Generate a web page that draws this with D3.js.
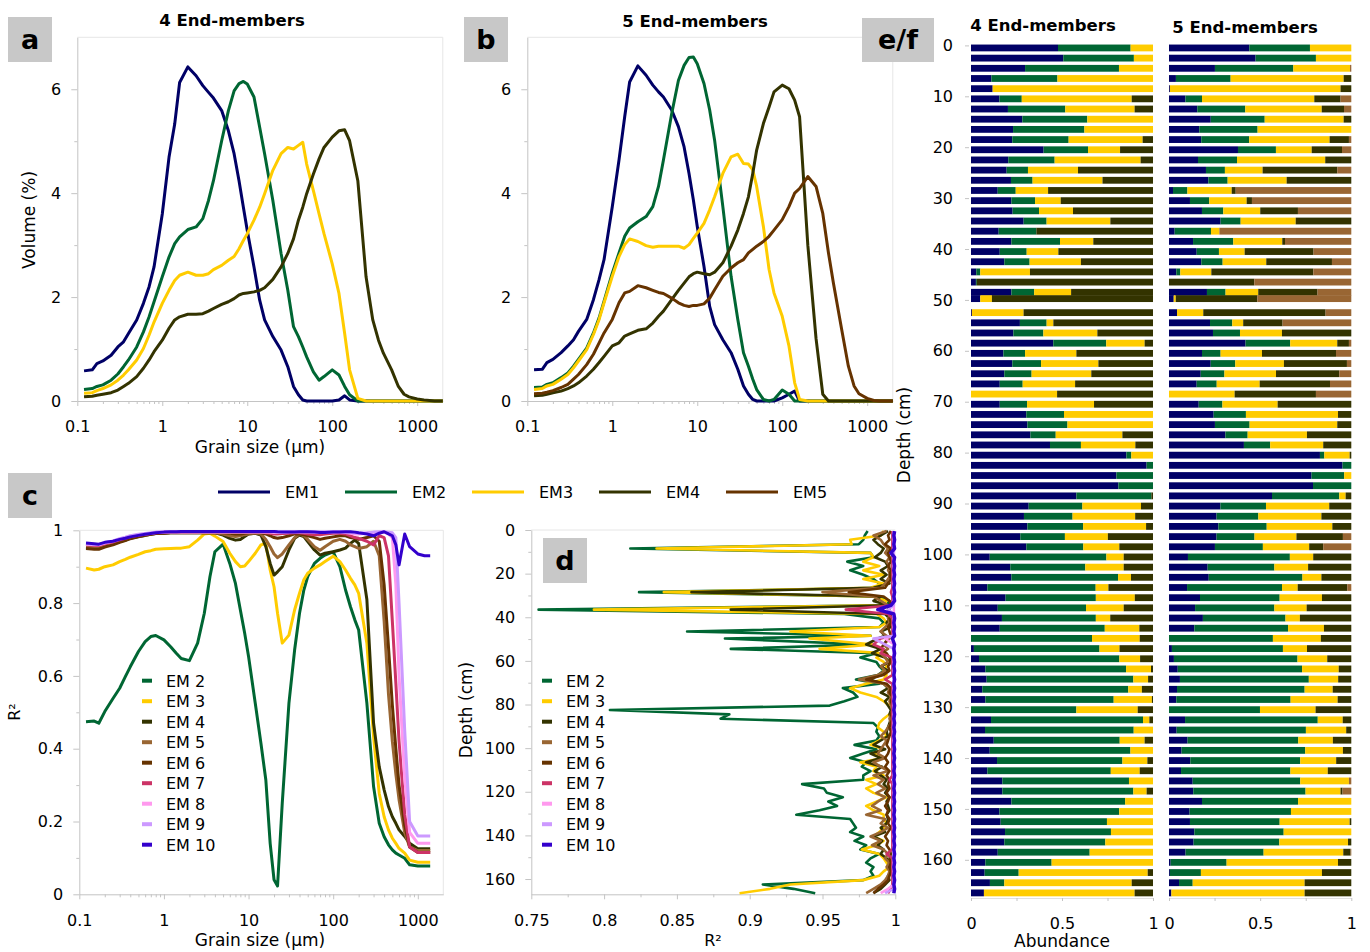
<!DOCTYPE html>
<html>
<head>
<meta charset="utf-8">
<script src="https://cdn.jsdelivr.net/npm/d3@7"></script>
<style>
body { margin:0; background:#fff; }
text { font-family: "DejaVu Sans", Verdana, sans-serif; }
</style>
</head>
<body>
<div id="chart"></div>
<script>
// grain sizes (um) for panels a and b
var grain = [0.12,0.15,0.17,0.2,0.25,0.3,0.35,0.4,0.5,0.6,0.7,0.8,
  1,1.2,1.4,1.6,2,2.5,3,3.5,4,5,6,7,8,9,
  10,12,14,16,20,25,30,35,40,45,50,60,70,80,
  100,120,140,160,200,250,300,350,400,500,600,700,800,
  1000,1200,1400,1600,2000];

// a: 4 end-members (volume %)
var a_em1 = [0.58,0.60,0.72,0.77,0.88,1.04,1.14,1.30,1.56,1.88,2.20,2.58,
  3.60,4.69,5.33,6.13,6.43,6.26,6.07,5.94,5.83,5.59,5.20,4.76,4.24,3.73,
  3.28,2.58,1.94,1.56,1.24,0.98,0.66,0.28,0.12,0.02,0,0,0,0,
  0,0.02,0.10,0.02,0,0,0,0,0,0,0,0,0, 0,0,0,0,0];
var a_em2 = [0.22,0.24,0.28,0.31,0.40,0.52,0.66,0.79,1.04,1.33,1.62,1.91,
  2.39,2.77,3.03,3.16,3.30,3.35,3.51,3.86,4.24,5.01,5.59,5.97,6.11,6.15,
  6.10,5.85,5.27,4.76,3.86,2.84,2.13,1.43,1.24,1.04,0.85,0.56,0.40,0.47,
  0.60,0.50,0.28,0.12,0,0,0,0,0,0,0,0,0, 0,0,0,0,0];
var a_em3 = [0.15,0.16,0.20,0.24,0.31,0.40,0.50,0.60,0.79,1.01,1.27,1.52,
  1.88,2.13,2.32,2.42,2.48,2.42,2.42,2.45,2.53,2.61,2.71,2.78,2.93,3.09,
  3.22,3.48,3.73,3.99,4.44,4.76,4.88,4.85,4.92,4.98,4.56,4.05,3.60,3.22,
  2.64,2.07,1.30,0.60,0.05,0,0,0,0,0,0,0,0, 0,0,0,0,0];
var a_em4 = [0.08,0.09,0.11,0.13,0.16,0.21,0.28,0.34,0.47,0.63,0.79,0.95,
  1.17,1.40,1.56,1.62,1.67,1.67,1.68,1.73,1.78,1.86,1.91,1.97,2.04,2.07,
  2.08,2.10,2.13,2.18,2.34,2.58,2.84,3.12,3.48,3.73,3.99,4.37,4.66,4.88,
  5.08,5.20,5.22,5.01,4.24,2.39,1.56,1.17,0.92,0.60,0.28,0.13,0.08, 0.04,0.02,0.01,0,0];

// b: 5 end-members (volume %)
var b_em1 = [0.60,0.61,0.74,0.80,0.93,1.06,1.18,1.34,1.57,1.95,2.34,2.72,
  3.74,4.64,5.47,6.14,6.45,6.27,6.08,5.95,5.85,5.60,5.28,4.89,4.38,3.87,
  3.36,2.59,1.82,1.47,1.18,0.93,0.61,0.29,0.13,0.03,0,0,0,0,
  0.06,0.13,0.19,0,0,0,0,0,0,0,0,0,0, 0,0,0,0,0];
var b_em2 = [0.26,0.27,0.32,0.35,0.45,0.54,0.67,0.80,1.02,1.31,1.60,1.92,
  2.46,2.85,3.17,3.33,3.45,3.55,3.74,4.13,4.64,5.53,6.17,6.46,6.61,6.62,
  6.49,6.11,5.60,5.02,3.74,2.40,1.57,0.93,0.67,0.42,0.22,0.03,0,0.03,
  0.21,0.13,0,0,0,0,0,0,0,0,0,0,0, 0,0,0,0,0];
var b_em3 = [0.22,0.24,0.29,0.32,0.42,0.51,0.64,0.77,0.99,1.28,1.57,1.89,
  2.40,2.78,3.01,3.12,3.07,2.99,2.96,2.98,2.98,2.98,2.98,2.94,3.01,3.13,
  3.23,3.42,3.68,3.93,4.38,4.70,4.75,4.57,4.56,4.45,4.13,3.36,2.53,2.08,
  1.63,1.06,0.35,0.03,0,0,0,0,0,0,0,0,0, 0,0,0,0,0];
var b_em4 = [0.10,0.11,0.13,0.16,0.19,0.24,0.29,0.35,0.48,0.61,0.74,0.86,
  1.06,1.12,1.25,1.29,1.36,1.39,1.50,1.63,1.73,1.95,2.13,2.27,2.39,2.45,
  2.48,2.45,2.43,2.48,2.66,2.98,3.29,3.61,3.93,4.38,4.83,5.34,5.66,5.95,
  6.08,6.01,5.79,5.47,3.00,1.20,0.13,0,0,0,0,0,0, 0,0,0,0,0];
var b_em5 = [0.14,0.15,0.17,0.20,0.26,0.32,0.42,0.51,0.70,0.90,1.12,1.31,
  1.57,1.89,2.08,2.11,2.22,2.18,2.13,2.09,2.07,1.98,1.89,1.84,1.82,1.84,
  1.84,1.87,1.98,2.14,2.40,2.56,2.66,2.72,2.85,2.92,2.98,3.07,3.17,3.29,
  3.49,3.74,4.00,4.09,4.32,4.13,3.61,2.85,2.27,1.38,0.67,0.29,0.14, 0.05,0.01,0,0,0];

// c: R2 per grain size
var grainR2 = [0.12,0.15,0.17,0.2,0.25,0.3,0.35,0.4,0.5,0.6,0.7,0.8,
  1,1.2,1.4,1.6,2,2.5,3,3.5,4,5,6,7,8,9,
  10,12,14,16,18,20,22,25,30,35,40,45,50,60,70,80,
  100,120,140,160,180,200,250,300,350,400,450,500,550,600,700,800,
  1000,1200,1400];
var c_em2 = [0.474,0.476,0.470,0.502,0.538,0.566,0.598,0.625,0.667,0.694,0.708,0.711,
  0.699,0.680,0.662,0.648,0.642,0.690,0.772,0.873,0.941,0.962,0.909,0.854,0.781,0.717,
  0.653,0.525,0.415,0.314,0.140,0.040,0.023,0.250,0.525,0.671,0.772,0.836,0.873,0.909,0.923,0.932,
  0.941,0.900,0.836,0.790,0.754,0.726,0.525,0.296,0.195,0.158,0.136,0.122,0.113,0.108,0.099,0.081,
  0.078,0.078,0.078];
var c_em3 = [0.896,0.891,0.893,0.900,0.905,0.914,0.920,0.926,0.934,0.941,0.944,0.948,
  0.949,0.950,0.951,0.951,0.955,0.973,0.990,0.992,0.984,0.969,0.937,0.914,0.900,0.902,
  0.914,0.937,0.960,0.964,0.891,0.845,0.772,0.690,0.712,0.781,0.827,0.864,0.882,0.896,0.905,0.914,
  0.929,0.914,0.891,0.868,0.850,0.827,0.690,0.433,0.277,0.213,0.177,0.154,0.140,0.126,0.113,0.094,
  0.088,0.088,0.088];
var c_em4 = [0.953,0.951,0.951,0.957,0.962,0.969,0.973,0.978,0.983,0.986,0.989,0.991,
  0.992,0.993,0.993,0.993,0.993,0.993,0.993,0.993,0.993,0.987,0.978,0.973,0.975,0.983,
  0.990,0.992,0.987,0.955,0.909,0.877,0.886,0.900,0.946,0.978,0.987,0.983,0.969,0.946,0.932,0.937,
  0.941,0.946,0.951,0.964,0.973,0.964,0.810,0.470,0.350,0.287,0.241,0.213,0.195,0.177,0.159,0.140,
  0.125,0.125,0.125];
var c_em5 = [0.955,0.953,0.953,0.958,0.963,0.970,0.974,0.979,0.984,0.987,0.990,0.992,
  0.993,0.994,0.994,0.994,0.994,0.994,0.994,0.994,0.993,0.990,0.985,0.983,0.985,0.988,
  0.990,0.992,0.990,0.975,0.955,0.935,0.925,0.935,0.960,0.980,0.990,0.985,0.975,0.955,0.945,0.955,
  0.970,0.975,0.970,0.960,0.955,0.950,0.955,0.970,0.930,0.750,0.550,0.420,0.330,0.260,0.170,0.130,
  0.120,0.120,0.120];
var c_em6 = [0.950,0.948,0.948,0.954,0.960,0.967,0.972,0.977,0.982,0.986,0.989,0.991,
  0.992,0.993,0.993,0.993,0.993,0.993,0.993,0.993,0.993,0.993,0.992,0.990,0.990,0.992,
  0.993,0.993,0.993,0.990,0.985,0.980,0.978,0.980,0.985,0.990,0.990,0.988,0.985,0.980,0.975,0.978,
  0.982,0.985,0.985,0.980,0.978,0.975,0.980,0.985,0.970,0.850,0.680,0.520,0.400,0.300,0.190,0.130,
  0.115,0.115,0.115];
var c_em7 = [0.960,0.958,0.958,0.963,0.968,0.974,0.978,0.982,0.986,0.989,0.991,0.993,
  0.994,0.995,0.995,0.995,0.995,0.995,0.995,0.995,0.995,0.995,0.995,0.995,0.995,0.995,
  0.995,0.995,0.995,0.993,0.992,0.990,0.990,0.991,0.992,0.993,0.993,0.992,0.990,0.988,0.988,0.990,
  0.992,0.992,0.990,0.985,0.980,0.978,0.970,0.960,0.985,0.980,0.930,0.750,0.580,0.420,0.220,0.130,
  0.115,0.115,0.115];
var c_em8 = [0.962,0.960,0.960,0.965,0.970,0.976,0.980,0.984,0.988,0.990,0.992,0.994,
  0.995,0.995,0.995,0.995,0.995,0.995,0.995,0.995,0.995,0.995,0.995,0.995,0.995,0.995,
  0.995,0.995,0.995,0.995,0.995,0.994,0.994,0.994,0.995,0.995,0.995,0.995,0.995,0.994,0.994,0.994,
  0.995,0.995,0.994,0.992,0.990,0.990,0.992,0.993,0.994,0.995,0.990,0.980,0.850,0.600,0.320,0.170,
  0.140,0.140,0.140];
var c_em9 = [0.963,0.961,0.961,0.966,0.971,0.977,0.981,0.985,0.989,0.991,0.993,0.995,
  0.996,0.996,0.996,0.996,0.996,0.996,0.996,0.996,0.996,0.996,0.996,0.996,0.996,0.996,
  0.996,0.996,0.996,0.996,0.996,0.996,0.996,0.996,0.996,0.996,0.996,0.996,0.996,0.996,0.996,0.996,
  0.996,0.996,0.995,0.994,0.993,0.992,0.993,0.995,0.996,0.996,0.995,0.993,0.980,0.800,0.450,0.200,
  0.160,0.160,0.160];
var c_em10 = [0.965,0.963,0.962,0.967,0.970,0.975,0.978,0.982,0.986,0.989,0.991,0.993,
  0.995,0.996,0.996,0.997,0.997,0.997,0.997,0.997,0.997,0.997,0.997,0.997,0.997,0.997,
  0.997,0.997,0.997,0.997,0.997,0.997,0.996,0.995,0.995,0.995,0.996,0.996,0.996,0.995,0.994,0.994,
  0.995,0.995,0.996,0.996,0.995,0.993,0.990,0.985,0.992,0.996,0.990,0.985,0.960,0.905,0.990,0.955,
  0.935,0.930,0.930];

// sample depths (cm) for panels d, e, f
var depth = [0.5,2.5,4.5,6.5,8.5,10.5,12.5,14.5,16.5,18.5,20.5,22.5,24.5,26.5,28.5,30.5,32.5,34.5,36.5,38.5,
  40.5,42.5,44.5,46.5,48.5,49.75,52.5,54.5,56.5,58.5,60.5,62.5,64.5,66.5,68.5,70.5,72.5,74.5,76.5,78.5,
  80.5,82.5,84.5,86.5,88.5,90.5,92.5,94.5,96.5,98.5,100.5,102.5,104.5,106.5,108.5,110.5,112.5,114.5,116.5,118.5,
  120.5,122.5,124.5,126.5,128.5,130.5,132.5,134.5,136.5,138.5,140.5,142.5,144.5,146.5,148.5,150.5,152.5,154.5,156.5,158.5,
  160.5,162.5,164.5,166.5];

// d: R2 per sample depth
var d_em2 = [.981,.979,.978,.975,.818,.983,.985,.967,.978,.969, .978,.985,.989,.992,.824,.989,.996,.994,.755,.965,
  .989,.992,.989,.857,.983,.883,.980,.887,.987,.976, .987,.989,.992,.988,.973,.989,.964,.971,.974,.965,
  .955,.804,.886,.880,.985,.988,.987,.989,.987,.972, .987,.978,.969,.980,.977,.983,.978,.978,.936,.951,
  .953,.964,.954,.960,.948,.932,.969,.971,.973,.969, .978,.972,.980,.976,.989,.983,.980,.985,.983,.985,
  .978,.909,.930,.945];
var d_em3 = [.992,.990,.969,.970,.836,.983,.985,.978,.989,.978, .992,.978,.992,.983,.841,.985,.994,.992,.793,.987,
  .992,.994,.989,.928,.983,.941,.985,.948,.992,.987, .992,.994,.992,.994,.992,.980,.969,.976,.987,.992,
  .996,.999,.996,.992,.989,.988,.992,.994,.989,.983, .992,.985,.992,.976,.987,.985,.992,.980,.987,.980,
  .985,.994,.987,.980,.985,.992,.992,.994,.992,.989, .985,.992,.987,.977,.989,.992,.994,.996,.992,.989,
  .978,.928,.914,.893];
var d_em4 = [.995,.990,.985,.988,.992,.990,.986,.993,.995,.990, .994,.990,.996,.985,.860,.990,.985,.995,.887,.993,
  .996,.994,.997,.990,.993,.988,.980,.990,.984,.993, .996,.990,.995,.990,.982,.992,.995,.990,.996,.993,
  .995,.997,.996,.997,.996,.995,.994,.995,.990,.985, .993,.983,.990,.980,.991,.986,.990,.994,.992,.995,
  .993,.996,.994,.995,.996,.994,.995,.994,.990,.993, .985,.991,.988,.992,.990,.994,.996,.995,.997,.995,
  .996,.993,.990,.985];
var d_em5 = [.994,.985,.990,.992,.995,.993,.996,.994,.996,.995, .997,.995,.993,.990,.950,.985,.990,.995,.996,.997,
  .995,.996,.993,.990,.994,.996,.992,.995,.990,.993, .995,.990,.993,.988,.975,.992,.996,.995,.997,.996,
  .997,.998,.997,.996,.997,.995,.993,.990,.994,.992, .990,.988,.993,.985,.990,.995,.985,.992,.988,.993,
  .987,.993,.988,.984,.990,.980,.993,.990,.995,.990, .983,.990,.984,.992,.995,.993,.996,.994,.996,.995,
  .993,.990,.985,.980];
var d_em6 = [.997,.995,.996,.993,.997,.995,.996,.997,.995,.997, .996,.997,.995,.993,.968,.992,.996,.997,.995,.997,
  .996,.997,.995,.996,.997,.995,.992,.990,.994,.996, .997,.995,.996,.992,.980,.994,.997,.996,.998,.997,
  .998,.998,.997,.998,.997,.996,.997,.996,.995,.994, .996,.995,.993,.995,.993,.996,.994,.996,.995,.996,
  .994,.996,.995,.993,.995,.994,.996,.995,.997,.995, .993,.995,.994,.996,.997,.996,.997,.996,.997,.996,
  .995,.992,.988,.985];
var d_em7 = [.998,.998,.998,.998,.998,.998,.998,.998,.998,.998, .998,.998,.998,.998,.997,.998,.998,.998,.966,.995,
  .998,.998,.998,.998,.998,.990,.985,.992,.990,.998, .998,.998,.998,.998,.993,.998,.998,.998,.998,.998,
  .998,.998,.998,.998,.998,.998,.998,.998,.998,.998, .998,.998,.998,.998,.998,.998,.998,.996,.998,.998,
  .998,.998,.998,.998,.998,.998,.998,.998,.998,.998, .998,.998,.998,.998,.994,.998,.998,.998,.998,.998,
  .998,.998,.997,.995];
var d_em8 = [.999,.999,.999,.999,.999,.999,.999,.999,.999,.999, .999,.999,.999,.999,.999,.999,.999,.999,.999,.999,
  .999,.999,.999,.999,.999,.993,.999,.999,.999,.999, .999,.999,.999,.999,.999,.999,.999,.999,.999,.999,
  .999,.999,.999,.999,.999,.999,.999,.999,.999,.999, .999,.999,.999,.999,.999,.999,.999,.999,.999,.999,
  .999,.999,.999,.999,.999,.999,.999,.999,.999,.999, .999,.999,.999,.999,.999,.999,.999,.999,.999,.999,
  .999,.999,.995,.990];
var d_em9 = [.999,.999,.999,.999,.999,.999,.999,.999,.999,.999, .999,.999,.999,.999,.999,.999,.999,.999,.995,.999,
  .999,.999,.999,.999,.999,.985,.993,.999,.999,.999, .999,.999,.999,.999,.999,.999,.999,.999,.999,.999,
  .999,.999,.999,.999,.999,.999,.999,.999,.999,.999, .999,.999,.999,.999,.999,.999,.999,.999,.999,.999,
  .999,.999,.999,.999,.999,.999,.999,.999,.999,.999, .999,.999,.999,.999,.999,.999,.999,.999,.999,.999,
  .999,.999,.999,.993];
var d_em10 = [.9995,.999,.9995,.999,.9995,.997,.9995,.999,.9995,.999, .9995,.999,.9995,.999,.9995,.999,.9995,.997,.988,.999,
  .9995,.999,.9995,.999,.9995,.998,.9995,.999,.9995,.999, .9995,.999,.9995,.999,.9995,.999,.9995,.999,.9995,.999,
  .9995,.999,.9995,.999,.9995,.999,.9995,.999,.9995,.999, .9995,.999,.9995,.999,.9995,.999,.9995,.999,.9995,.999,
  .9995,.999,.9995,.999,.9995,.999,.9995,.999,.9995,.999, .9995,.999,.9995,.999,.9995,.999,.9995,.999,.9995,.999,
  .9995,.999,.9995,.999];

// e: abundances, 4 end-members
var e_em1 = [.478,.507,.297,.112,.119,.156,.203,.282,.231,.227, .399,.205,.196,.220,.147,.222,.229,.289,.152,.222,
  .158,.183,.029,.027,.222,.051,.005,.269,.233,.452, .178,.227,.183,.158,0,.158,.304,.310,.326,.434,
  .853,.965,.799,.810,.579,.317,.291,.310,.271,.304, .103,.216,.222,.090,.190,.147,.170,.158,0,.016,
  .044,.079,.086,.062,.079,0,.110,.077,.125,.103, .143,.090,.172,.172,.222,.156,.163,.187,.183,.147,
  .079,.075,.104,.071];
var e_em2 = [.399,.388,.516,.363,0,.123,.315,.357,.392,.310, .244,.255,.117,.119,.099,.130,.145,.126,.207,.267,
  .148,.139,.022,.005,.125,0,0,.147,.165,.291, .119,.158,.150,.126,0,.150,.207,.220,.139,.170,
  .027,.035,.201,.190,.412,.295,.267,.306,.245,.313, .641,.412,.586,.595,.496,.485,.516,.577,.665,.690,
  .771,.773,.806,.802,.705,.579,.835,.817,.692,.773, .689,.678,.696,.720,.625,.658,.584,.582,.555,.505,
  .364,.187,.079,0];
var e_em3 = [.123,.105,.187,.525,.881,.604,.381,.361,.377,.407, .176,.473,.275,.385,.178,.141,.187,.350,0,.183,
  .174,.282,.273,0,.203,.064,.284,.037,.297,.211, .282,.315,.328,.288,.473,.368,.489,.470,.366,.299,
  .119,0,0,0,0,.322,.344,.346,.236,.198, .095,.211,.071,.070,.214,.207,.079,.190,.262,.110,
  .114,.137,.081,.075,.210,.337,.035,.106,.137,.124, .137,.159,.132,.073,.153,.186,.253,.231,.262,.348,
  .557,.709,.700,.828];
var e_em4 = [0,0,0,0,0,.117,.101,0,0,.057, .181,.068,.412,.278,.577,.507,.440,.234,.641,.328,
  .520,.396,.676,.968,.450,.885,.711,.548,.306,.046, .421,.300,.339,.428,.527,.324,0,0,.168,.097,
  0,0,0,0,.009,.066,.098,.038,.248,.185, .161,.161,.121,.245,.100,.161,.235,.075,.073,.184,
  .071,.011,.027,.061,.006,.084,.020,0,.046,0, .031,.073,0,.035,0,0,0,0,0,0,
  0,.029,.117,.101];

// f: abundances, 5 end-members
var f_em1 = [.441,.475,.252,.038,.005,.090,.155,.229,.166,.177, .378,.159,.203,.216,.022,.115,.181,.283,.031,.132,
  .152,.177,.040,0,.208,.026,.044,.225,.241,.420, .181,.229,.174,.152,0,.163,.245,.252,.309,.411,
  .828,.952,.782,.790,.565,.282,.261,.271,.261,.252, .104,.212,.218,.099,.170,.143,.186,.139,0,.016,
  .027,.048,.060,.044,.040,0,.088,.042,.102,.069, .117,.066,.130,.133,.181,.113,.115,.139,.135,.091,
  .009,.005,.055,.013];
var f_em2 = [.333,.331,.430,.300,0,.091,.263,.296,.320,.263, .208,.214,.104,.106,.079,.106,.117,.110,.199,.221,
  .122,.117,.022,0,.102,0,0,.122,.148,.245, .102,.135,.130,.110,0,.130,.177,.190,.122,.144,
  .024,.048,.179,.210,.369,.250,.229,.265,.208,.263, .559,.366,.514,.521,.437,.435,.453,.514,.570,.609,
  .678,.682,.707,.700,.627,.499,.728,.709,.607,.678, .603,.600,.590,.616,.527,.556,.492,.490,.470,.428,
  .307,.170,.075,0];
var f_em3 = [.227,.194,.311,.620,.936,.616,.419,.433,.514,.441, .196,.484,.207,.324,.243,.205,.203,.302,.046,.269,
  .141,.239,.170,0,.179,.011,.144,.060,.230,.258, .227,.267,.283,.236,.360,.303,.505,.481,.325,.291,
  .139,0,.039,0,.035,.347,.346,.360,.230,.254, .128,.185,.104,.086,.232,.177,.079,.197,.263,.132,
  .163,.201,.161,.154,.258,.305,.137,.221,.190,.207, .197,.205,.267,.192,.292,.331,.384,.371,.377,.437,
  .611,.664,.614,.731];
var f_em4 = [0,0,0,.042,.059,.144,.122,.042,0,.106, .166,.143,.410,.355,.022,.029,.207,.305,0,.015,
  .378,.360,.559,.468,.325,.448,.671,.216,.380,.064, .406,.346,.347,.386,.446,.404,.073,.077,.243,.154,
  .009,0,0,0,.031,.121,.164,.104,.255,.077, .209,.237,.164,.272,.161,.245,.282,.150,.167,.243,
  .132,.069,.072,.102,.075,.196,.047,.028,.101,.046, .083,.129,0,.011,0,0,.009,0,.018,.040,
  .073,.161,.256,.256];
var f_em5 = [0,0,.007,0,0,.059,.040,0,0,.013, .051,0,.077,0,.634,.545,.293,0,.723,.364,
  .207,.106,.208,.532,.185,.516,.141,.377,0,.013, .084,.024,.066,.117,.194,0,0,0,0,0,
  0,0,0,0,0,0,0,0,.046,.154, 0,0,0,.022,0,0,0,0,0,0,
  0,0,0,0,0,0,0,0,0,0, 0,0,.013,.048,0,0,0,0,0,.004,
  0,0,0,0];

var emNames = ["EM1","EM2","EM3","EM4","EM5"];
var emColors = ["#000066","#006633","#ffcc00","#333300","#663300"];
var r2Names = ["EM 2","EM 3","EM 4","EM 5","EM 6","EM 7","EM 8","EM 9","EM 10"];
var r2Colors = ["#006633","#ffcc00","#333300","#996633","#663300","#cc3366","#ff99ee","#cc99ff","#3300cc"];
var barColors = ["#000066","#006633","#ffcc00","#333300","#996633"];

var AX = "#c4c4c4", FRAME = "#e6e6e6";
var svg = d3.select("#chart").append("svg").attr("width",1370).attr("height",952);

function styleAxis(g, fs) {
  g.attr("font-family","DejaVu Sans, Verdana, sans-serif");
  g.selectAll("line").attr("stroke",AX);
  g.select(".domain").attr("stroke",AX);
  g.selectAll("text").attr("font-size",fs||16).attr("fill","#000");
}

function logX(x, y0) {
  var major = [0.1,1,10,100,1000], minor = [];
  major.forEach(function(m){ for (var k=2;k<10;k++) if (m*k<x.domain()[1]) minor.push(m*k); });
  var gm = svg.append("g").attr("transform","translate(0,"+y0+")")
    .call(d3.axisBottom(x).tickValues(minor).tickSize(3).tickFormat(""));
  gm.select(".domain").remove();
  gm.selectAll("line").attr("stroke",AX);
  var g = svg.append("g").attr("transform","translate(0,"+y0+")")
    .call(d3.axisBottom(x).tickValues(major).tickSize(5).tickSizeOuter(0).tickPadding(15).tickFormat(d3.format("~g")));
  styleAxis(g);
}

function linY(y, x0, major, minor, fmt) {
  var gm = svg.append("g").attr("transform","translate("+x0+",0)")
    .call(d3.axisLeft(y).tickValues(minor).tickSize(3).tickFormat(""));
  gm.select(".domain").remove();
  gm.selectAll("line").attr("stroke",AX);
  var g = svg.append("g").attr("transform","translate("+x0+",0)")
    .call(d3.axisLeft(y).tickValues(major).tickSize(6).tickSizeOuter(0).tickPadding(10).tickFormat(fmt || d3.format("~g")));
  styleAxis(g);
}

function frame(x0, x1, y0, y1) {
  svg.append("line").attr("x1",x0).attr("x2",x1).attr("y1",y0).attr("y2",y0).attr("stroke",FRAME);
  svg.append("line").attr("x1",x1).attr("x2",x1).attr("y1",y0).attr("y2",y1).attr("stroke",FRAME);
}

function labelBox(x, y, w, h, t) {
  svg.append("rect").attr("x",x).attr("y",y).attr("width",w).attr("height",h).attr("fill","#c8c8c8");
  svg.append("text").attr("x",x+w/2).attr("y",y+h/2+9).attr("text-anchor","middle")
    .attr("font-size",27).attr("font-weight","bold").text(t);
}

function txt(x, y, t, size, opts) {
  opts = opts || {};
  var el = svg.append("text").attr("x",x).attr("y",y).attr("font-size",size)
    .attr("text-anchor",opts.anchor || "middle").text(t);
  if (opts.bold) el.attr("font-weight","bold");
  if (opts.rot) el.attr("transform","rotate(-90,"+x+","+y+")");
  return el;
}

function curves(xs, ys, xv, list, colors, w) {
  list.forEach(function(vals, i) {
    var pts = vals.map(function(v, j){ return [xv[j], v]; });
    svg.append("path").datum(pts).attr("fill","none").attr("stroke",colors[i])
      .attr("stroke-width",w).attr("stroke-linejoin","round")
      .attr("d", d3.line().defined(function(p){ return p[0]!=null && p[1]!=null; })
        .x(function(p){ return xs(p[0]); }).y(function(p){ return ys(p[1]); }));
  });
}

// ---------- panel a ----------
var xA = d3.scaleLog().domain([0.1,2000]).range([77.3,442.8]);
var yA = d3.scaleLinear().domain([0,7]).range([401,37.3]);
frame(77.3,442.8,37.3,401);
linY(yA, 77.3, [0,2,4,6], [1,3,5]);
logX(xA, 401);
curves(xA, yA, grain, [a_em1,a_em2,a_em3,a_em4], emColors, 3);
txt(232, 26, "4 End-members", 16.5, {bold:true});
txt(35, 220, "Volume (%)", 17, {rot:true});
txt(260, 453, "Grain size (\u03bcm)", 17);
labelBox(8,17,44,45,"a");

// ---------- panel b ----------
var xB = d3.scaleLog().domain([0.1,2000]).range([527.3,892.8]);
frame(527.3,892.8,37.3,401);
linY(yA, 527.3, [0,2,4,6], [1,3,5]);
logX(xB, 401);
curves(xB, yA, grain, [b_em1,b_em2,b_em3,b_em4,b_em5], emColors, 3);
txt(695, 27, "5 End-members", 16.5, {bold:true});
labelBox(464,17,44,45,"b");

// ---------- top legend ----------
emNames.forEach(function(n, i) {
  var x0 = 218 + i*127;
  svg.append("line").attr("x1",x0).attr("x2",x0+52).attr("y1",492).attr("y2",492)
    .attr("stroke",emColors[i]).attr("stroke-width",3);
  txt(x0+67, 498, n, 16, {anchor:"start"});
});

// ---------- panel c ----------
var xC = d3.scaleLog().domain([0.1,2000]).range([79.3,443.3]);
var yC = d3.scaleLinear().domain([0,1]).range([894.3,530.3]);
frame(79.3,443.3,530.3,894.3);
linY(yC, 79.3, [0,0.2,0.4,0.6,0.8,1], [0.1,0.3,0.5,0.7,0.9]);
logX(xC, 894.3);
curves(xC, yC, grainR2, [c_em2,c_em3,c_em4,c_em5,c_em6,c_em7,c_em8,c_em9,c_em10], r2Colors, 3);
txt(20, 712, "R\u00b2", 16, {rot:true});
txt(260, 946, "Grain size (\u03bcm)", 17);
labelBox(8,473,44,45,"c");
r2Names.forEach(function(n, i) {
  var y0 = 680.7 + i*20.5;
  svg.append("line").attr("x1",142).attr("x2",152).attr("y1",y0).attr("y2",y0)
    .attr("stroke",r2Colors[i]).attr("stroke-width",4);
  txt(166, y0+6, n, 16, {anchor:"start"});
});

// ---------- panel d ----------
var xD = d3.scaleLinear().domain([0.75,1]).range([531.3,895.3]);
var yD = d3.scaleLinear().domain([0,167]).range([530,894.3]);
svg.append("line").attr("x1",531.3).attr("x2",895.3).attr("y1",530).attr("y2",530).attr("stroke",FRAME);
linY(yD, 531.3, [0,20,40,60,80,100,120,140,160], [10,30,50,70,90,110,130,150]);
(function(){
  var gm = svg.append("g").attr("transform","translate(0,894.3)")
    .call(d3.axisBottom(xD).tickValues([0.775,0.825,0.875,0.925,0.975]).tickSize(3).tickFormat(""));
  gm.select(".domain").remove(); gm.selectAll("line").attr("stroke",AX);
  var g = svg.append("g").attr("transform","translate(0,894.3)")
    .call(d3.axisBottom(xD).tickValues([0.75,0.8,0.85,0.9,0.95,1]).tickSize(5).tickSizeOuter(0).tickPadding(15).tickFormat(d3.format("~g")));
  styleAxis(g);
})();
[d_em2,d_em3,d_em4,d_em5,d_em6,d_em7,d_em8,d_em9,d_em10].forEach(function(vals, i) {
  var pts = vals.map(function(v, j){ return [v, depth[j]]; });
  svg.append("path").datum(pts).attr("fill","none").attr("stroke",r2Colors[i])
    .attr("stroke-width", i===8 ? 3.5 : 2.6).attr("stroke-linejoin","round")
    .attr("d", d3.line().x(function(p){ return xD(p[0]); }).y(function(p){ return yD(p[1]); }));
});
txt(472, 710, "Depth (cm)", 17, {rot:true});
txt(713, 946, "R\u00b2", 16);
labelBox(543,538,44,45,"d");
r2Names.forEach(function(n, i) {
  var y0 = 680.7 + i*20.5;
  svg.append("line").attr("x1",542).attr("x2",552).attr("y1",y0).attr("y2",y0)
    .attr("stroke",r2Colors[i]).attr("stroke-width",4);
  txt(566, y0+6, n, 16, {anchor:"start"});
});

// ---------- panels e / f ----------
var yE = d3.scaleLinear().domain([0,167.5]).range([45.4,898]);
var barH = 6.8;
function barPanel(x0, x1, cols, colors) {
  var xs = d3.scaleLinear().domain([0,1]).range([x0,x1]);
  var rows = depth.map(function(d, i) {
    var vals = cols.map(function(c){ return c[i]; });
    var s = d3.sum(vals), acc = 0;
    return { depth: d, segs: vals.map(function(v, k){ var a = acc; acc += v/s; return {a:a, b:acc, k:k}; }) };
  });
  svg.append("g").selectAll("g").data(rows).join("g")
    .attr("transform", function(r){ return "translate(0,"+(yE(r.depth)-barH/2)+")"; })
    .selectAll("rect").data(function(r){ return r.segs.filter(function(s){ return s.b > s.a; }); }).join("rect")
    .attr("x", function(s){ return xs(s.a); })
    .attr("width", function(s){ return xs(s.b) - xs(s.a); })
    .attr("height", barH)
    .attr("fill", function(s){ return colors[s.k]; });
  var g = svg.append("g").attr("transform","translate(0,898)")
    .call(d3.axisBottom(xs).tickValues([0,0.25,0.5,0.75,1]).tickSize(3).tickSizeOuter(0).tickPadding(17)
      .tickFormat(function(v){ return (v===0.25||v===0.75) ? "" : d3.format("~g")(v); }));
  styleAxis(g);
  g.select(".domain").attr("stroke","#e0e0e0");
}
barPanel(971,1153,[e_em1,e_em2,e_em3,e_em4], barColors);
barPanel(1169,1351.3,[f_em1,f_em2,f_em3,f_em4,f_em5], barColors);
(function(){
  var g = svg.append("g").attr("transform","translate(969,0)")
    .call(d3.axisLeft(yE).tickValues([0,10,20,30,40,50,60,70,80,90,100,110,120,130,140,150,160]).tickSize(4).tickPadding(12));
  styleAxis(g);
  g.select(".domain").remove();
})();
txt(1043, 31, "4 End-members", 16.5, {bold:true});
txt(1245, 33, "5 End-members", 16.5, {bold:true});
txt(910, 435, "Depth (cm)", 17, {rot:true});
txt(1062, 947, "Abundance", 17);
labelBox(862,18,72,44,"e/f");
</script>
</body>
</html>
